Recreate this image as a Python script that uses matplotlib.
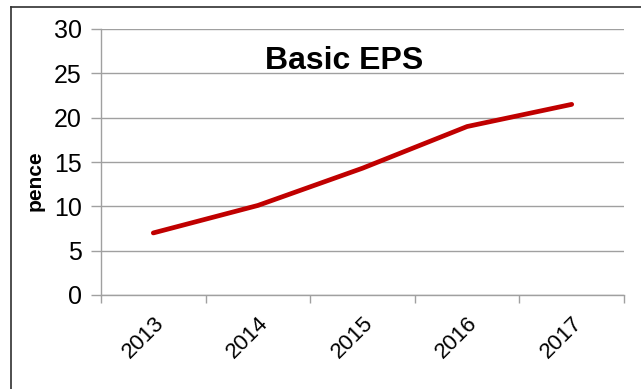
import matplotlib
matplotlib.use("Agg")
import matplotlib.pyplot as plt
from matplotlib.lines import Line2D

# ======================== 数据 ========================
years = ["2013", "2014", "2015", "2016", "2017"]
eps_pence = [7.0, 10.1, 14.3, 19.0, 21.5]
y_ticks = [0, 5, 10, 15, 20, 25, 30]

plt.rcParams["font.family"] = ["Liberation Sans", "DejaVu Sans"]

fig = plt.figure(figsize=(6.41, 3.89), dpi=100)
ax = fig.add_axes([101 / 641, 1 - 295 / 389, 523 / 641, 266 / 389])

x = list(range(len(years)))
ax.plot(x, eps_pence, color="#c00000", linewidth=3.4, solid_capstyle="round", zorder=3)

# --- 坐标轴 ---
ax.set_xlim(-0.5, len(years) - 0.5)
ax.set_ylim(0, 30)
ax.set_yticks(y_ticks)
ax.set_xticks([i - 0.5 for i in range(len(years) + 1)])
ax.set_xticklabels([])
ax.set_xticks(x, minor=True)
ax.set_xticklabels(years, minor=True, rotation=45, ha="right",
                   rotation_mode="anchor", fontsize=16)
ax.tick_params(axis="x", which="minor", length=0, pad=13)
ax.tick_params(axis="x", which="major", length=6, color="#a0a0a0", width=1)
ax.tick_params(axis="y", length=7, color="#a0a0a0", width=1, labelsize=18, pad=7)

ax.grid(True, axis="y", color="#a0a0a0", linewidth=1)
ax.set_axisbelow(True)
for side in ["top", "right"]:
    ax.spines[side].set_visible(False)
for side in ["left", "bottom"]:
    ax.spines[side].set_color("#a0a0a0")
    ax.spines[side].set_linewidth(1)

ax.set_ylabel("pence", fontsize=15, fontweight="bold")
ax.yaxis.set_label_coords(-0.108, 0.43)
ax.text(0.465, 0.88, "Basic EPS", transform=ax.transAxes, ha="center", va="center",
        fontsize=23, fontweight="bold")

# --- 外框（右侧和底部被裁掉） ---
fig.add_artist(Line2D([11 / 641, 11 / 641], [0, 1 - 7 / 389], color="#303030", linewidth=1.2))
fig.add_artist(Line2D([11 / 641, 1], [1 - 7 / 389, 1 - 7 / 389], color="#303030", linewidth=1.2))

fig.savefig("out.png", dpi=100)
